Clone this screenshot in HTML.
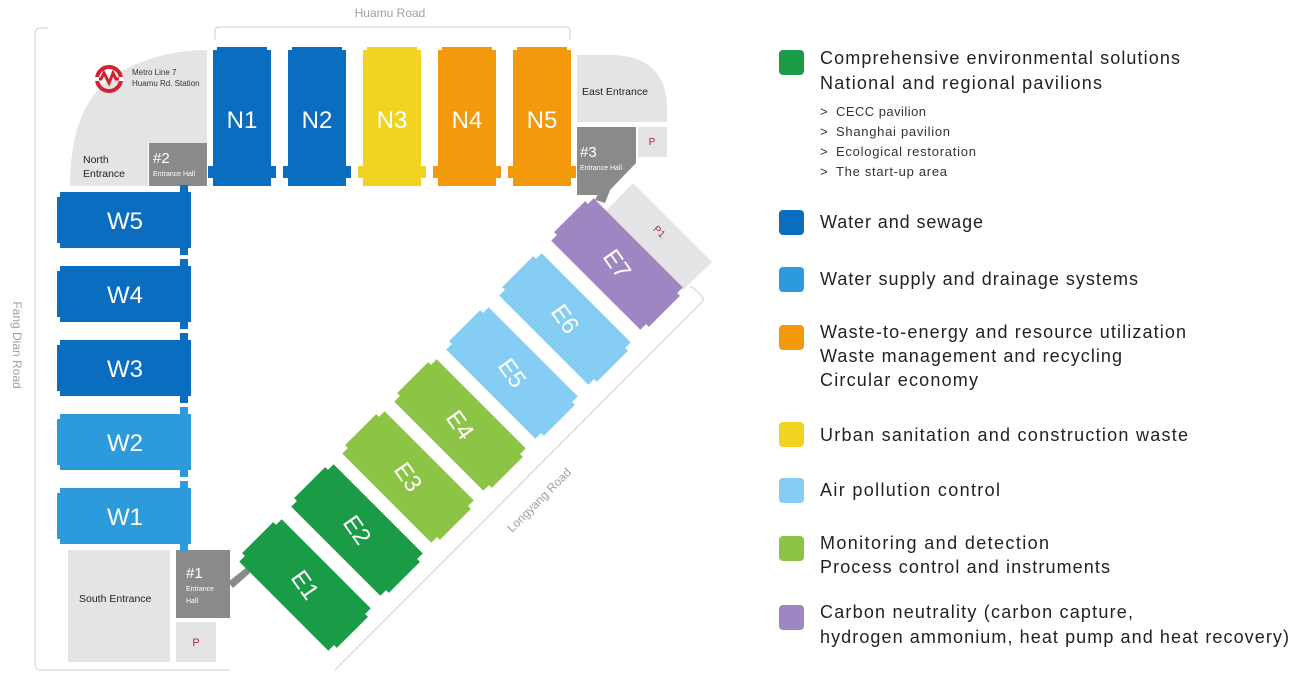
<!DOCTYPE html>
<html><head><meta charset="utf-8"><style>
html,body{margin:0;padding:0;background:#fff;}
svg{display:block;font-family:"Liberation Sans",sans-serif;}
</style></head><body>
<svg width="1300" height="680" viewBox="0 0 1300 680" xmlns="http://www.w3.org/2000/svg">
<!-- roads -->
<g fill="none" stroke="#d6d6d6" stroke-width="1.2">
<path d="M230,670 L41,670 Q35,670 35,664 L35,34 Q35,28 41,28 L48,28"/>
<path d="M215,40 L215,31 Q215,27 219,27 L566,27 Q570,27 570,31 L570,40"/>
<path d="M704,300 L335,670"/>
<path d="M690,286 Q700,292 704,300"/>
</g>
<text x="390" y="17" font-size="12" fill="#a0a0a0" text-anchor="middle">Huamu Road</text>
<text transform="translate(13,345) rotate(90)" font-size="12" fill="#a0a0a0" text-anchor="middle">Fang Dian Road</text>
<text transform="translate(542,503) rotate(-45)" font-size="12" fill="#a0a0a0" text-anchor="middle">Longyang Road</text>

<!-- gray areas -->
<g fill="#e4e4e4">
<path d="M207,50 L207,143 L148,143 L148,186 L70,186 Q70,100 120,72 Q160,50 207,50 Z"/>
<path d="M577,55 L615,55 Q665,58 667,105 L667,122 L577,122 Z"/>
<rect x="638" y="127" width="29" height="30"/>
<rect x="68" y="550" width="102" height="112"/>
<rect x="176" y="622" width="40" height="40"/>
<polygon points="633,183 712,262 683,290 605,212"/>
</g>
<g fill="#8a8a8a">
<rect x="149" y="143" width="58" height="43"/>
<path d="M577,127 L636,127 L636,163 L610,190 L600,195 L577,195 L577,186 Z"/>
<rect x="176" y="550" width="54" height="68"/>
<polygon points="228,582 247,567 250,573 233,588"/>
<polygon points="600,190 614,180 605,203 595,200"/>
</g>
<text x="652" y="145" font-size="10" fill="#b0283c" text-anchor="middle">P</text>
<text x="196" y="646" font-size="11" fill="#b0283c" text-anchor="middle">P</text>
<text transform="translate(657,234) rotate(45)" font-size="10" fill="#b0283c" text-anchor="middle">P1</text>
<g font-size="10.5" fill="#222">
<text x="83" y="163">North</text><text x="83" y="177">Entrance</text>
<text x="582" y="95">East Entrance</text>
<text x="79" y="602">South Entrance</text>
</g>
<g fill="#fff">
<text x="153" y="163" font-size="15">#2</text><text x="153" y="176" font-size="7">Entrance Hall</text>
<text x="580" y="157" font-size="15">#3</text><text x="580" y="170" font-size="7">Entrance Hall</text>
<text x="186" y="578" font-size="15">#1</text><text x="186" y="591" font-size="7">Entrance</text><text x="186" y="603" font-size="7">Hall</text>
</g>
<!-- metro logo -->
<circle cx="109" cy="79" r="12" fill="none" stroke="#d42030" stroke-width="4"/>
<path d="M96,79 L101,79 L104,73 L109,83 L113,73 L116,79 L122,79" fill="none" stroke="#d42030" stroke-width="3"/>
<rect x="95" y="77" width="4" height="4" fill="#fff"/><rect x="119" y="77" width="4" height="4" fill="#fff"/>
<text x="132" y="75" font-size="8" fill="#333">Metro Line 7</text>
<text x="132" y="86" font-size="8" fill="#333">Huamu Rd. Station</text>

<defs>
<g id="nh"><rect x="0" y="0" width="58" height="136"/><rect x="-5" y="116" width="68" height="12"/><rect x="4" y="-3" width="50" height="4"/></g>
<g id="wh"><rect x="0" y="0" width="131" height="56"/><rect x="120" y="-7" width="8" height="70"/><rect x="-3" y="5" width="4" height="46"/></g>
<g id="eh"><rect x="-63" y="-30" width="126" height="60"/><rect x="-67" y="-22" width="134" height="44"/></g>
</defs>
<use href="#nh" x="213" y="50" fill="#0b6dbf"/>
<use href="#nh" x="288" y="50" fill="#0b6dbf"/>
<use href="#nh" x="363" y="50" fill="#f2d321"/>
<use href="#nh" x="438" y="50" fill="#f29a0c"/>
<use href="#nh" x="513" y="50" fill="#f29a0c"/>
<g fill="#fff" font-size="24" text-anchor="middle">
<text x="242" y="128">N1</text><text x="317" y="128">N2</text><text x="392" y="128">N3</text><text x="467" y="128">N4</text><text x="542" y="128">N5</text>
</g>
<use href="#wh" x="60" y="192" fill="#0b6dbf"/>
<use href="#wh" x="60" y="266" fill="#0b6dbf"/>
<use href="#wh" x="60" y="340" fill="#0b6dbf"/>
<use href="#wh" x="60" y="414" fill="#2d9bdb"/>
<use href="#wh" x="60" y="488" fill="#2d9bdb"/>
<g fill="#fff" font-size="24" text-anchor="middle">
<text x="125" y="229">W5</text><text x="125" y="303">W4</text><text x="125" y="377">W3</text><text x="125" y="451">W2</text><text x="125" y="525">W1</text>
</g>
<g font-size="24" fill="#fff" text-anchor="middle">
<g transform="translate(305,585) rotate(45)"><use href="#eh" fill="#1a9b46"/><text y="8" transform="rotate(10)">E1</text></g>
<g transform="translate(357,530) rotate(45)"><use href="#eh" fill="#1a9b46"/><text y="8" transform="rotate(10)">E2</text></g>
<g transform="translate(408,477) rotate(45)"><use href="#eh" fill="#8cc446"/><text y="8" transform="rotate(10)">E3</text></g>
<g transform="translate(460,425) rotate(45)"><use href="#eh" fill="#8cc446"/><text y="8" transform="rotate(10)">E4</text></g>
<g transform="translate(512,373) rotate(45)"><use href="#eh" fill="#85cdf2"/><text y="8" transform="rotate(10)">E5</text></g>
<g transform="translate(565,319) rotate(45)"><use href="#eh" fill="#85cdf2"/><text y="8" transform="rotate(10)">E6</text></g>
<g transform="translate(617,264) rotate(45)"><use href="#eh" fill="#9d86c2"/><text y="8" transform="rotate(10)">E7</text></g>
</g>

<g>
<rect x="779" y="50" width="25" height="25" rx="4" fill="#1a9b46"/>
<rect x="779" y="210" width="25" height="25" rx="4" fill="#0b6dbf"/>
<rect x="779" y="267" width="25" height="25" rx="4" fill="#2d9bdb"/>
<rect x="779" y="325" width="25" height="25" rx="4" fill="#f29a0c"/>
<rect x="779" y="422" width="25" height="25" rx="4" fill="#f2d321"/>
<rect x="779" y="478" width="25" height="25" rx="4" fill="#85cdf2"/>
<rect x="779" y="536" width="25" height="25" rx="4" fill="#8cc446"/>
<rect x="779" y="605" width="25" height="25" rx="4" fill="#9d86c2"/>
</g>
<g font-size="18" fill="#222">
<text x="820" y="64" textLength="360">Comprehensive environmental solutions</text>
<text x="820" y="89" textLength="282">National and regional pavilions</text>
<text x="820" y="228" textLength="163">Water and sewage</text>
<text x="820" y="285" textLength="318">Water supply and drainage systems</text>
<text x="820" y="338" textLength="366">Waste-to-energy and resource utilization</text>
<text x="820" y="362" textLength="302">Waste management and recycling</text>
<text x="820" y="386" textLength="158">Circular economy</text>
<text x="820" y="441" textLength="368">Urban sanitation and construction waste</text>
<text x="820" y="496" textLength="180">Air pollution control</text>
<text x="820" y="549" textLength="229">Monitoring and detection</text>
<text x="820" y="573" textLength="290">Process control and instruments</text>
<text x="820" y="618" textLength="313">Carbon neutrality (carbon capture,</text>
<text x="820" y="643" textLength="469">hydrogen ammonium, heat pump and heat recovery)</text>
</g>
<g font-size="13" fill="#333">
<text x="820" y="116">&gt;</text><text x="836" y="116" textLength="90">CECC pavilion</text>
<text x="820" y="136">&gt;</text><text x="836" y="136" textLength="114">Shanghai pavilion</text>
<text x="820" y="156">&gt;</text><text x="836" y="156" textLength="140">Ecological restoration</text>
<text x="820" y="176">&gt;</text><text x="836" y="176" textLength="111">The start-up area</text>
</g>
</svg>
</body></html>
